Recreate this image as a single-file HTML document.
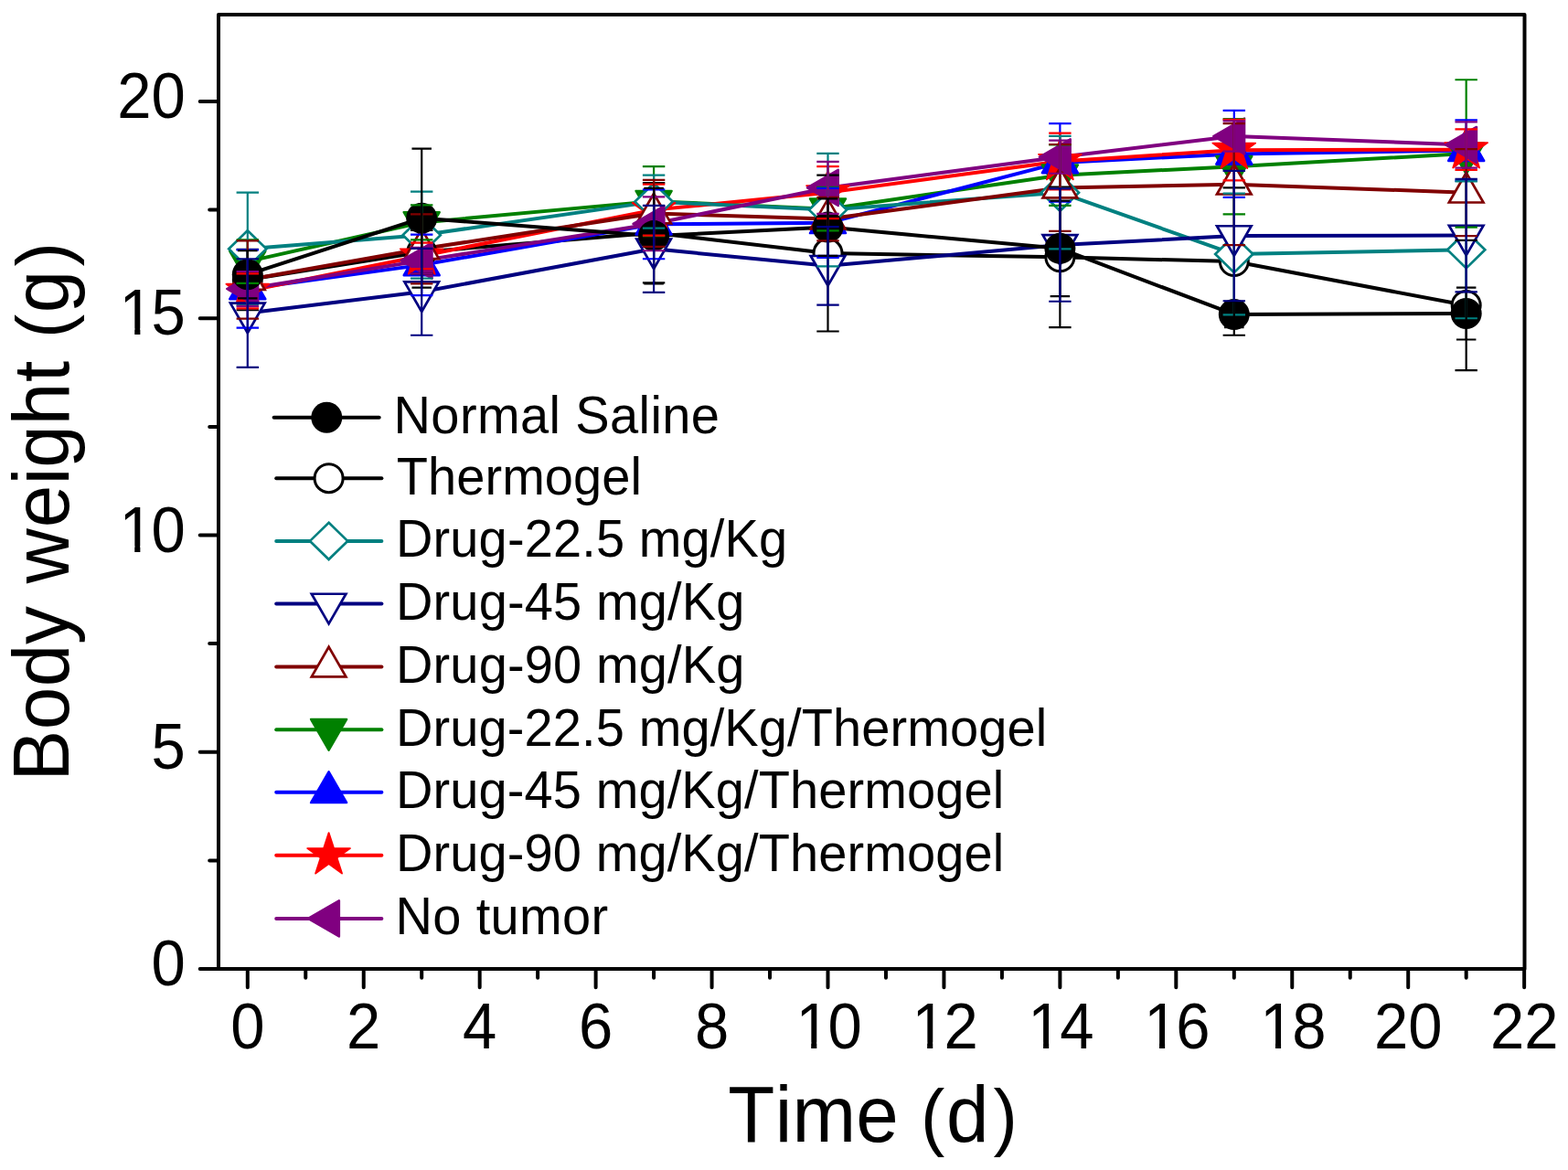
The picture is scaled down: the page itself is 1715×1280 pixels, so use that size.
<!DOCTYPE html>
<html><head><meta charset="utf-8"><title>Body weight vs Time</title>
<style>html,body{margin:0;padding:0;background:#fff;overflow:hidden;}svg{display:block;}text{font-family:"Liberation Sans",Arial,sans-serif;fill:#000;font-kerning:none;white-space:pre;}</style></head><body>
<svg width="1715" height="1280" viewBox="0 0 1715 1280">
<rect x="0" y="0" width="1715" height="1280" fill="#fff"/>
<g fill="none" stroke-linejoin="round" stroke-linecap="round">
<polyline points="270.8,306.02 461.21,275.65 715.09,254.77 905.5,277.07 1159.38,281.35 1349.79,286.09 1603.67,334.01" stroke="#000000" stroke-width="4.0"/>
<polyline points="270.8,286.09 461.21,243.39 715.09,220.13 905.5,228.68 1159.38,191.66 1349.79,182.17 1603.67,167.94" stroke="#008000" stroke-width="4.0"/>
<polyline points="270.8,315.98 461.21,289.89 715.09,245.28 905.5,243.86 1159.38,177.9 1349.79,168.41 1603.67,164.62" stroke="#0000FF" stroke-width="4.0"/>
<polyline points="270.8,318.36 461.21,279.92 715.09,229.62 905.5,210.64 1159.38,176.48 1349.79,164.14 1603.67,163.67" stroke="#FF0000" stroke-width="4.0"/>
<polyline points="270.8,272.33 461.21,257.15 715.09,220.61 905.5,229.62 1159.38,210.64 1349.79,278.02 1603.67,273.28" stroke="#008080" stroke-width="4.0"/>
<polyline points="270.8,306.02 461.21,272.33 715.09,233.42 905.5,239.59 1159.38,205.43 1349.79,201.63 1603.67,210.64" stroke="#800000" stroke-width="4.0"/>
<polyline points="270.8,315.98 461.21,285.14 715.09,244.81 905.5,205.43 1159.38,171.74 1349.79,148.96 1603.67,158.45" stroke="#800080" stroke-width="4.0"/>
<polyline points="270.8,342.56 461.21,319.31 715.09,272.33 905.5,290.84 1159.38,268.06 1349.79,258.1 1603.67,257.62" stroke="#000080" stroke-width="4.0"/>
<polyline points="270.8,300.33 461.21,238.64 715.09,258.1 905.5,248.6 1159.38,271.86 1349.79,343.98 1603.67,343.03" stroke="#000000" stroke-width="4.0"/>
</g>
<g>
<circle cx="270.8" cy="306.02" r="15.5" fill="#fff" stroke="#000000" stroke-width="3"/>
<circle cx="461.21" cy="275.65" r="15.5" fill="#fff" stroke="#000000" stroke-width="3"/>
<circle cx="715.09" cy="254.77" r="15.5" fill="#fff" stroke="#000000" stroke-width="3"/>
<circle cx="905.5" cy="277.07" r="15.5" fill="#fff" stroke="#000000" stroke-width="3"/>
<circle cx="1159.38" cy="281.35" r="15.5" fill="#fff" stroke="#000000" stroke-width="3"/>
<circle cx="1349.79" cy="286.09" r="15.5" fill="#fff" stroke="#000000" stroke-width="3"/>
<circle cx="1603.67" cy="334.01" r="15.5" fill="#fff" stroke="#000000" stroke-width="3"/>
<polygon points="251.3,274.83 290.3,274.83 270.8,308.61" fill="#008000" stroke="#008000" stroke-width="2.5" stroke-linejoin="round"/>
<polygon points="441.71,232.13 480.71,232.13 461.21,265.9" fill="#008000" stroke="#008000" stroke-width="2.5" stroke-linejoin="round"/>
<polygon points="695.59,208.88 734.59,208.88 715.09,242.65" fill="#008000" stroke="#008000" stroke-width="2.5" stroke-linejoin="round"/>
<polygon points="886,217.42 925,217.42 905.5,251.19" fill="#008000" stroke="#008000" stroke-width="2.5" stroke-linejoin="round"/>
<polygon points="1139.88,180.41 1178.88,180.41 1159.38,214.18" fill="#008000" stroke="#008000" stroke-width="2.5" stroke-linejoin="round"/>
<polygon points="1330.29,170.92 1369.29,170.92 1349.79,204.69" fill="#008000" stroke="#008000" stroke-width="2.5" stroke-linejoin="round"/>
<polygon points="1584.17,156.68 1623.17,156.68 1603.67,190.46" fill="#008000" stroke="#008000" stroke-width="2.5" stroke-linejoin="round"/>
<polygon points="251.3,327.24 290.3,327.24 270.8,293.47" fill="#0000FF" stroke="#0000FF" stroke-width="2.5" stroke-linejoin="round"/>
<polygon points="441.71,301.14 480.71,301.14 461.21,267.37" fill="#0000FF" stroke="#0000FF" stroke-width="2.5" stroke-linejoin="round"/>
<polygon points="695.59,256.54 734.59,256.54 715.09,222.77" fill="#0000FF" stroke="#0000FF" stroke-width="2.5" stroke-linejoin="round"/>
<polygon points="886,255.12 925,255.12 905.5,221.34" fill="#0000FF" stroke="#0000FF" stroke-width="2.5" stroke-linejoin="round"/>
<polygon points="1139.88,189.16 1178.88,189.16 1159.38,155.39" fill="#0000FF" stroke="#0000FF" stroke-width="2.5" stroke-linejoin="round"/>
<polygon points="1330.29,179.67 1369.29,179.67 1349.79,145.9" fill="#0000FF" stroke="#0000FF" stroke-width="2.5" stroke-linejoin="round"/>
<polygon points="1584.17,175.88 1623.17,175.88 1603.67,142.1" fill="#0000FF" stroke="#0000FF" stroke-width="2.5" stroke-linejoin="round"/>
<polygon points="270.8,293.76 276.32,310.75 294.2,310.75 279.74,321.26 285.26,338.26 270.8,327.75 256.34,338.26 261.86,321.26 247.4,310.75 265.28,310.75" fill="#FF0000" stroke="#FF0000" stroke-width="1.8" stroke-linejoin="round"/>
<polygon points="461.21,255.32 466.73,272.32 484.61,272.32 470.15,282.83 475.67,299.82 461.21,289.32 446.75,299.82 452.27,282.83 437.81,272.32 455.69,272.32" fill="#FF0000" stroke="#FF0000" stroke-width="1.8" stroke-linejoin="round"/>
<polygon points="715.09,205.03 720.61,222.02 738.49,222.02 724.03,232.53 729.55,249.53 715.09,239.02 700.63,249.53 706.15,232.53 691.69,222.02 709.57,222.02" fill="#FF0000" stroke="#FF0000" stroke-width="1.8" stroke-linejoin="round"/>
<polygon points="905.5,186.04 911.02,203.04 928.9,203.04 914.44,213.55 919.96,230.55 905.5,220.04 891.04,230.55 896.56,213.55 882.1,203.04 899.98,203.04" fill="#FF0000" stroke="#FF0000" stroke-width="1.8" stroke-linejoin="round"/>
<polygon points="1159.38,151.88 1164.9,168.88 1182.78,168.88 1168.32,179.38 1173.84,196.38 1159.38,185.88 1144.92,196.38 1150.44,179.38 1135.98,168.88 1153.86,168.88" fill="#FF0000" stroke="#FF0000" stroke-width="1.8" stroke-linejoin="round"/>
<polygon points="1349.79,139.54 1355.31,156.54 1373.19,156.54 1358.73,167.05 1364.25,184.05 1349.79,173.54 1335.33,184.05 1340.85,167.05 1326.39,156.54 1344.27,156.54" fill="#FF0000" stroke="#FF0000" stroke-width="1.8" stroke-linejoin="round"/>
<polygon points="1603.67,139.07 1609.19,156.07 1627.07,156.07 1612.61,166.57 1618.13,183.57 1603.67,173.07 1589.21,183.57 1594.73,166.57 1580.27,156.07 1598.15,156.07" fill="#FF0000" stroke="#FF0000" stroke-width="1.8" stroke-linejoin="round"/>
<polygon points="270.8,252.23 291.4,272.33 270.8,292.43 250.2,272.33" fill="#fff" stroke="#008080" stroke-width="2.7" stroke-linejoin="miter"/>
<polygon points="461.21,237.05 481.81,257.15 461.21,277.25 440.61,257.15" fill="#fff" stroke="#008080" stroke-width="2.7" stroke-linejoin="miter"/>
<polygon points="715.09,200.51 735.69,220.61 715.09,240.71 694.49,220.61" fill="#fff" stroke="#008080" stroke-width="2.7" stroke-linejoin="miter"/>
<polygon points="905.5,209.53 926.1,229.62 905.5,249.72 884.9,229.62" fill="#fff" stroke="#008080" stroke-width="2.7" stroke-linejoin="miter"/>
<polygon points="1159.38,190.54 1179.98,210.64 1159.38,230.74 1138.78,210.64" fill="#fff" stroke="#008080" stroke-width="2.7" stroke-linejoin="miter"/>
<polygon points="1349.79,257.92 1370.39,278.02 1349.79,298.12 1329.19,278.02" fill="#fff" stroke="#008080" stroke-width="2.7" stroke-linejoin="miter"/>
<polygon points="1603.67,253.18 1624.27,273.28 1603.67,293.38 1583.07,273.28" fill="#fff" stroke="#008080" stroke-width="2.7" stroke-linejoin="miter"/>
<polygon points="252,316.87 289.6,316.87 270.8,284.31" fill="#fff" stroke="#800000" stroke-width="2.7" stroke-linejoin="miter"/>
<polygon points="442.41,283.18 480.01,283.18 461.21,250.62" fill="#fff" stroke="#800000" stroke-width="2.7" stroke-linejoin="miter"/>
<polygon points="696.29,244.28 733.89,244.28 715.09,211.71" fill="#fff" stroke="#800000" stroke-width="2.7" stroke-linejoin="miter"/>
<polygon points="886.7,250.44 924.3,250.44 905.5,217.88" fill="#fff" stroke="#800000" stroke-width="2.7" stroke-linejoin="miter"/>
<polygon points="1140.58,216.28 1178.18,216.28 1159.38,183.72" fill="#fff" stroke="#800000" stroke-width="2.7" stroke-linejoin="miter"/>
<polygon points="1330.99,212.48 1368.59,212.48 1349.79,179.92" fill="#fff" stroke="#800000" stroke-width="2.7" stroke-linejoin="miter"/>
<polygon points="1584.87,221.5 1622.47,221.5 1603.67,188.94" fill="#fff" stroke="#800000" stroke-width="2.7" stroke-linejoin="miter"/>
<polygon points="282.06,296.48 282.06,335.48 248.28,315.98" fill="#800080" stroke="#800080" stroke-width="2.5" stroke-linejoin="round"/>
<polygon points="472.47,265.64 472.47,304.64 438.69,285.14" fill="#800080" stroke="#800080" stroke-width="2.5" stroke-linejoin="round"/>
<polygon points="726.35,225.31 726.35,264.31 692.57,244.81" fill="#800080" stroke="#800080" stroke-width="2.5" stroke-linejoin="round"/>
<polygon points="916.76,185.93 916.76,224.93 882.98,205.43" fill="#800080" stroke="#800080" stroke-width="2.5" stroke-linejoin="round"/>
<polygon points="1170.64,152.24 1170.64,191.24 1136.86,171.74" fill="#800080" stroke="#800080" stroke-width="2.5" stroke-linejoin="round"/>
<polygon points="1361.05,129.46 1361.05,168.46 1327.27,148.96" fill="#800080" stroke="#800080" stroke-width="2.5" stroke-linejoin="round"/>
<polygon points="1614.93,138.95 1614.93,177.95 1581.15,158.45" fill="#800080" stroke="#800080" stroke-width="2.5" stroke-linejoin="round"/>
<polygon points="252,331.7 289.6,331.7 270.8,364.26" fill="#fff" stroke="#000080" stroke-width="2.7" stroke-linejoin="miter"/>
<polygon points="442.41,308.45 480.01,308.45 461.21,341.01" fill="#fff" stroke="#000080" stroke-width="2.7" stroke-linejoin="miter"/>
<polygon points="696.29,261.48 733.89,261.48 715.09,294.04" fill="#fff" stroke="#000080" stroke-width="2.7" stroke-linejoin="miter"/>
<polygon points="886.7,279.98 924.3,279.98 905.5,312.54" fill="#fff" stroke="#000080" stroke-width="2.7" stroke-linejoin="miter"/>
<polygon points="1140.58,257.21 1178.18,257.21 1159.38,289.77" fill="#fff" stroke="#000080" stroke-width="2.7" stroke-linejoin="miter"/>
<polygon points="1330.99,247.24 1368.59,247.24 1349.79,279.8" fill="#fff" stroke="#000080" stroke-width="2.7" stroke-linejoin="miter"/>
<polygon points="1584.87,246.77 1622.47,246.77 1603.67,279.33" fill="#fff" stroke="#000080" stroke-width="2.7" stroke-linejoin="miter"/>
<circle cx="270.8" cy="300.33" r="17" fill="#000000"/>
<circle cx="461.21" cy="238.64" r="17" fill="#000000"/>
<circle cx="715.09" cy="258.1" r="17" fill="#000000"/>
<circle cx="905.5" cy="248.6" r="17" fill="#000000"/>
<circle cx="1159.38" cy="271.86" r="17" fill="#000000"/>
<circle cx="1349.79" cy="343.98" r="17" fill="#000000"/>
<circle cx="1603.67" cy="343.03" r="17" fill="#000000"/>
</g>
<g fill="none" stroke-width="2.2">
<path d="M270.8 272.8V339.23M258.6 272.8H283M258.6 339.23H283M461.21 251.93V299.38M449.01 251.93H473.41M449.01 299.38H473.41M715.09 200.21V309.34M702.89 200.21H727.29M702.89 309.34H727.29M905.5 191.66V362.49M893.3 191.66H917.7M893.3 362.49H917.7M1159.38 204.48V358.21M1147.18 204.48H1171.58M1147.18 358.21H1171.58M1349.79 205.43V366.76M1337.59 205.43H1361.99M1337.59 366.76H1361.99M1603.67 262.84V405.19M1591.47 262.84H1615.87M1591.47 405.19H1615.87" stroke="#000000"/>
<path d="M270.8 262.37V309.82M258.6 262.37H283M258.6 309.82H283M461.21 224.41V262.37M449.01 224.41H473.41M449.01 262.37H473.41M715.09 182.17V258.1M702.89 182.17H727.29M702.89 258.1H727.29M905.5 204.95V252.4M893.3 204.95H917.7M893.3 252.4H917.7M1159.38 158.45V224.88M1147.18 158.45H1171.58M1147.18 224.88H1171.58M1349.79 129.98V234.37M1337.59 129.98H1361.99M1337.59 234.37H1361.99M1603.67 87.27V248.6M1591.47 87.27H1615.87M1591.47 248.6H1615.87" stroke="#008000"/>
<path d="M270.8 273.28V358.69M258.6 273.28H283M258.6 358.69H283M461.21 256.67V323.1M449.01 256.67H473.41M449.01 323.1H473.41M715.09 207.32V283.24M702.89 207.32H727.29M702.89 283.24H727.29M905.5 205.9V281.82M893.3 205.9H917.7M893.3 281.82H917.7M1159.38 135.2V220.61M1147.18 135.2H1171.58M1147.18 220.61H1171.58M1349.79 120.96V215.86M1337.59 120.96H1361.99M1337.59 215.86H1361.99M1603.67 131.4V197.83M1591.47 131.4H1615.87M1591.47 197.83H1615.87" stroke="#0000FF"/>
<path d="M270.8 299.38V337.34M258.6 299.38H283M258.6 337.34H283M461.21 265.69V294.16M449.01 265.69H473.41M449.01 294.16H473.41M715.09 201.63V257.62M702.89 201.63H727.29M702.89 257.62H727.29M905.5 182.17V239.12M893.3 182.17H917.7M893.3 239.12H917.7M1159.38 145.64V207.32M1147.18 145.64H1171.58M1147.18 207.32H1171.58M1349.79 130.93V197.36M1337.59 130.93H1361.99M1337.59 197.36H1361.99M1603.67 141.37V185.97M1591.47 141.37H1615.87M1591.47 185.97H1615.87" stroke="#FF0000"/>
<path d="M270.8 210.64V334.01M258.6 210.64H283M258.6 334.01H283M461.21 209.7V304.6M449.01 209.7H473.41M449.01 304.6H473.41M715.09 191.66V249.55M702.89 191.66H727.29M702.89 249.55H727.29M905.5 167.94V291.31M893.3 167.94H917.7M893.3 291.31H917.7M1159.38 148.96V272.33M1147.18 148.96H1171.58M1147.18 272.33H1171.58M1349.79 211.59V344.45M1337.59 211.59H1361.99M1337.59 344.45H1361.99M1603.67 198.31V348.25M1591.47 198.31H1615.87M1591.47 348.25H1615.87" stroke="#008080"/>
<path d="M270.8 263.31V348.72M258.6 263.31H283M258.6 348.72H283M461.21 234.37V310.29M449.01 234.37H473.41M449.01 310.29H473.41M715.09 196.88V269.96M702.89 196.88H727.29M702.89 269.96H727.29M905.5 215.86V263.31M893.3 215.86H917.7M893.3 263.31H917.7M1159.38 157.98V252.88M1147.18 157.98H1171.58M1147.18 252.88H1171.58M1349.79 135.2V268.06M1337.59 135.2H1361.99M1337.59 268.06H1361.99M1603.67 163.2V258.1M1591.47 163.2H1615.87M1591.47 258.1H1615.87" stroke="#800000"/>
<path d="M270.8 297V334.96M258.6 297H283M258.6 334.96H283M461.21 270.91V299.38M449.01 270.91H473.41M449.01 299.38H473.41M715.09 215.39V274.23M702.89 215.39H727.29M702.89 274.23H727.29M905.5 176.96V233.9M893.3 176.96H917.7M893.3 233.9H917.7M1159.38 153.71V189.77M1147.18 153.71H1171.58M1147.18 189.77H1171.58M1349.79 132.35V165.57M1337.59 132.35H1361.99M1337.59 165.57H1361.99M1603.67 133.3V183.6M1591.47 133.3H1615.87M1591.47 183.6H1615.87" stroke="#800080"/>
<path d="M270.8 274.23V326.42M260.05 274.23H281.55M260.05 326.42H281.55M461.21 162.72V314.56M450.46 162.72H471.96M450.46 314.56H471.96M715.09 205.9V310.29M704.34 205.9H725.84M704.34 310.29H725.84M905.5 217.29V279.92M894.75 217.29H916.25M894.75 279.92H916.25M1159.38 219.66V324.05M1148.63 219.66H1170.13M1148.63 324.05H1170.13M1349.79 329.74V358.21M1339.04 329.74H1360.54M1339.04 358.21H1360.54M1603.67 314.56V371.5M1592.92 314.56H1614.42M1592.92 371.5H1614.42" stroke="#000000"/>
<path d="M270.8 283.24V401.87M258.6 283.24H283M258.6 401.87H283M461.21 271.86V366.76M449.01 271.86H473.41M449.01 366.76H473.41M715.09 224.88V319.78M702.89 224.88H727.29M702.89 319.78H727.29M905.5 248.13V333.54M893.3 248.13H917.7M893.3 333.54H917.7M1159.38 206.37V329.74M1147.18 206.37H1171.58M1147.18 329.74H1171.58M1349.79 186.92V329.27M1337.59 186.92H1361.99M1337.59 329.27H1361.99M1603.67 195.94V319.31M1591.47 195.94H1615.87M1591.47 319.31H1615.87" stroke="#000080"/>
</g>
<rect x="239" y="16" width="1428.5" height="1044" fill="none" stroke="#000" stroke-width="4.0" stroke-linejoin="round"/>
<path d="M270.8 1060V1080.3M334.27 1060V1069.8M397.74 1060V1080.3M461.21 1060V1069.8M524.68 1060V1080.3M588.15 1060V1069.8M651.62 1060V1080.3M715.09 1060V1069.8M778.56 1060V1080.3M842.03 1060V1069.8M905.5 1060V1080.3M968.97 1060V1069.8M1032.44 1060V1080.3M1095.91 1060V1069.8M1159.38 1060V1080.3M1222.85 1060V1069.8M1286.32 1060V1080.3M1349.79 1060V1069.8M1413.26 1060V1080.3M1476.73 1060V1069.8M1540.2 1060V1080.3M1603.67 1060V1069.8M1667.14 1060V1080.3M239 1060H218.7M239 941.38H229.2M239 822.75H218.7M239 704.12H229.2M239 585.5H218.7M239 466.88H229.2M239 348.25H218.7M239 229.62H229.2M239 111H218.7" stroke="#000" stroke-width="4.0" stroke-linecap="round" fill="none"/>
<defs><clipPath id="c1" clipPathUnits="userSpaceOnUse"><rect x="-5" y="-80" width="50" height="73.39"/><rect x="16.75" y="-80" width="6.12" height="90"/></clipPath></defs>
<text transform="translate(0 1147) scale(1 1.04)" font-size="67" x="252.17">0</text>
<text transform="translate(0 1147) scale(1 1.04)" font-size="67" x="379.11">2</text>
<text transform="translate(0 1147) scale(1 1.04)" font-size="67" x="506.05">4</text>
<text transform="translate(0 1147) scale(1 1.04)" font-size="67" x="632.99">6</text>
<text transform="translate(0 1147) scale(1 1.04)" font-size="67" x="759.93">8</text>
<text transform="translate(870.45 1147) scale(1 1.04)" font-size="67" clip-path="url(#c1)">1</text>
<text transform="translate(0 1147) scale(1 1.04)" font-size="67" x="905.5">0</text>
<text transform="translate(997.39 1147) scale(1 1.04)" font-size="67" clip-path="url(#c1)">1</text>
<text transform="translate(0 1147) scale(1 1.04)" font-size="67" x="1032.44">2</text>
<text transform="translate(1124.33 1147) scale(1 1.04)" font-size="67" clip-path="url(#c1)">1</text>
<text transform="translate(0 1147) scale(1 1.04)" font-size="67" x="1159.38">4</text>
<text transform="translate(1251.27 1147) scale(1 1.04)" font-size="67" clip-path="url(#c1)">1</text>
<text transform="translate(0 1147) scale(1 1.04)" font-size="67" x="1286.32">6</text>
<text transform="translate(1378.21 1147) scale(1 1.04)" font-size="67" clip-path="url(#c1)">1</text>
<text transform="translate(0 1147) scale(1 1.04)" font-size="67" x="1413.26">8</text>
<text transform="translate(0 1147) scale(1 1.04)" font-size="67" x="1502.94 1540.2">20</text>
<text transform="translate(0 1147) scale(1 1.04)" font-size="67" x="1629.88 1667.14">22</text>
<text transform="translate(0 1078) scale(1 1.04)" font-size="67" x="165.55">0</text>
<text transform="translate(0 841) scale(1 1.04)" font-size="67" x="165.55">5</text>
<text transform="translate(130.5 604) scale(1 1.04)" font-size="67" clip-path="url(#c1)">1</text>
<text transform="translate(0 604) scale(1 1.04)" font-size="67" x="165.55">0</text>
<text transform="translate(130.5 366) scale(1 1.04)" font-size="67" clip-path="url(#c1)">1</text>
<text transform="translate(0 366) scale(1 1.04)" font-size="67" x="165.55">5</text>
<text transform="translate(0 129) scale(1 1.04)" font-size="67" x="128.29 165.55">20</text>
<text transform="translate(0 1249.1) scale(1 1.04)" font-size="83.6"><tspan x="796.14">T</tspan><tspan x="847.83">i</tspan><tspan x="866.56">m</tspan><tspan x="936.33">e</tspan><tspan x="982.83"> </tspan><tspan x="1006.98" font-size="79">(</tspan><tspan x="1034.99">d</tspan><tspan x="1086.61" font-size="79">)</tspan></text>
<text transform="translate(75.3 848) rotate(-90) scale(1 1.04)" font-size="83.6"><tspan x="-6.5">B</tspan><tspan x="49.65">o</tspan><tspan x="96.69">d</tspan><tspan x="142.88">y</tspan><tspan x="184.68"> </tspan><tspan x="209.62">w</tspan><tspan x="270.63">e</tspan><tspan x="317.73">i</tspan><tspan x="336.34">g</tspan><tspan x="382.87">h</tspan><tspan x="429.91">t</tspan><tspan x="453.14"> </tspan><tspan x="477.98" font-size="79">(</tspan><tspan x="505.74">g</tspan><tspan x="556.41" font-size="79">)</tspan></text>
<line x1="299.6" y1="456.7" x2="414.7" y2="456.7" stroke="#000000" stroke-width="4.0" stroke-linecap="round"/>
<circle cx="357.3" cy="456.7" r="17" fill="#000000"/>
<text transform="translate(430.51 474.2) scale(1 1.04)" font-size="56" letter-spacing="0.399">Normal Saline</text>
<line x1="302.2" y1="523.2" x2="417.4" y2="523.2" stroke="#000000" stroke-width="4.0" stroke-linecap="round"/>
<circle cx="359.6" cy="523.2" r="15.5" fill="#fff" stroke="#000000" stroke-width="3"/>
<text transform="translate(433.84 540.7) scale(1 1.04)" font-size="56" letter-spacing="0.042">Thermogel</text>
<line x1="302.2" y1="591.9" x2="417.4" y2="591.9" stroke="#008080" stroke-width="4.0" stroke-linecap="round"/>
<polygon points="359.6,571.8 380.2,591.9 359.6,612 339,591.9" fill="#fff" stroke="#008080" stroke-width="2.7" stroke-linejoin="miter"/>
<text transform="translate(433.01 609.4) scale(1 1.04)" font-size="56" letter-spacing="0.127">Drug-22.5 mg/Kg</text>
<line x1="302.2" y1="660.6" x2="417.4" y2="660.6" stroke="#000080" stroke-width="4.0" stroke-linecap="round"/>
<polygon points="340.8,649.75 378.4,649.75 359.6,682.31" fill="#fff" stroke="#000080" stroke-width="2.7" stroke-linejoin="miter"/>
<text transform="translate(433.01 678.1) scale(1 1.04)" font-size="56" letter-spacing="0.132">Drug-45 mg/Kg</text>
<line x1="302.2" y1="729.5" x2="417.4" y2="729.5" stroke="#800000" stroke-width="4.0" stroke-linecap="round"/>
<polygon points="340.8,740.35 378.4,740.35 359.6,707.79" fill="#fff" stroke="#800000" stroke-width="2.7" stroke-linejoin="miter"/>
<text transform="translate(433.01 747) scale(1 1.04)" font-size="56" letter-spacing="0.132">Drug-90 mg/Kg</text>
<line x1="302.2" y1="798.2" x2="417.4" y2="798.2" stroke="#008000" stroke-width="4.0" stroke-linecap="round"/>
<polygon points="340.1,786.94 379.1,786.94 359.6,820.72" fill="#008000" stroke="#008000" stroke-width="2.5" stroke-linejoin="round"/>
<text transform="translate(433.01 815.7) scale(1 1.04)" font-size="56" letter-spacing="0.112">Drug-22.5 mg/Kg/Thermogel</text>
<line x1="302.2" y1="866.8" x2="417.4" y2="866.8" stroke="#0000FF" stroke-width="4.0" stroke-linecap="round"/>
<polygon points="340.1,878.06 379.1,878.06 359.6,844.28" fill="#0000FF" stroke="#0000FF" stroke-width="2.5" stroke-linejoin="round"/>
<text transform="translate(433.01 884.3) scale(1 1.04)" font-size="56" letter-spacing="0.100">Drug-45 mg/Kg/Thermogel</text>
<line x1="302.2" y1="935.7" x2="417.4" y2="935.7" stroke="#FF0000" stroke-width="4.0" stroke-linecap="round"/>
<polygon points="359.6,911.1 365.12,928.1 383,928.1 368.54,938.6 374.06,955.6 359.6,945.1 345.14,955.6 350.66,938.6 336.2,928.1 354.08,928.1" fill="#FF0000" stroke="#FF0000" stroke-width="1.8" stroke-linejoin="round"/>
<text transform="translate(433.01 953.2) scale(1 1.04)" font-size="56" letter-spacing="0.100">Drug-90 mg/Kg/Thermogel</text>
<line x1="302.2" y1="1004.9" x2="417.4" y2="1004.9" stroke="#800080" stroke-width="4.0" stroke-linecap="round"/>
<polygon points="370.86,985.4 370.86,1024.4 337.08,1004.9" fill="#800080" stroke="#800080" stroke-width="2.5" stroke-linejoin="round"/>
<text transform="translate(432.41 1022.4) scale(1 1.04)" font-size="56" letter-spacing="0.362">No tumor</text>
</svg></body></html>
